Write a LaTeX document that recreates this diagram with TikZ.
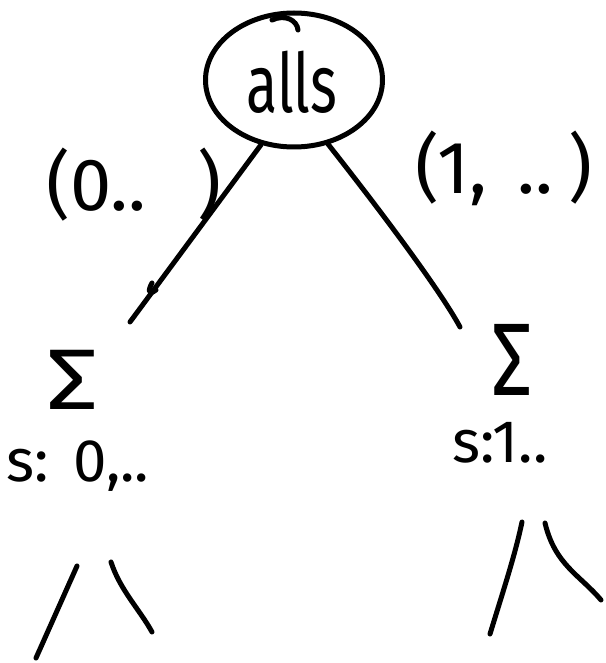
\documentclass[tikz,border=0pt]{standalone}
\usepackage{fontspec}
\setmainfont{Fira Sans}
\usetikzlibrary{shapes.geometric}
\begin{document}
\begin{tikzpicture}[x=1pt,y=-1pt,
  pen/.style={line width=5pt,line cap=round,line join=round},
  lab/.style={font=\fontsize{74}{78}\selectfont,inner sep=0pt},
  mid/.style={font=\fontsize{60}{64}\selectfont,inner sep=0pt},
  sig/.style={font=\fontsize{86}{90}\selectfont,inner sep=0pt}]
\useasboundingbox (0,0) rectangle (605,663);
\node[draw,pen,ellipse,minimum width=177pt,minimum height=134pt] (root) at (294,80) {};
\node[font=\fontsize{82}{86}\selectfont,inner sep=0pt,xscale=0.7] (name) at (292,82) {alls};
\draw[pen] (272,20) .. controls (285,14) and (297,20) .. (298,30);
\node[lab] (l0) at (134,185) {(0..\hspace{52pt})};
\node[lab] (l1) at (504,168) {(1,\hspace{30pt}..\hspace{16pt})};
\node[sig,xscale=1.2] (sl) at (72,380) {Σ};
\node[sig,yscale=1.2,xscale=0.95] (sr) at (512,360) {Σ};
\node[mid] (tl) at (78,466) {s:\hspace{24pt}0,..};
\node[mid] (tr) at (500,443) {s:1..};
\coordinate (le) at (130,322);
\coordinate (re) at (460,327);
\draw[pen] (root.243) -- (le);
\draw[pen] (152,283) .. controls (148,290) and (148,296) .. (156,290);
\draw[pen] (root.298) .. controls (380,210) and (440,290) .. (re);
\coordinate (a1) at (36,658); \coordinate (a2) at (77,566);
\coordinate (b1) at (111,562); \coordinate (b2) at (152,632);
\coordinate (c1) at (490,634); \coordinate (c2) at (522,522);
\coordinate (d1) at (545,523); \coordinate (d2) at (601,600);
\draw[pen] (a1) -- (a2);
\draw[pen] (b1) .. controls (120,590) and (140,610) .. (b2);
\draw[pen] (c1) .. controls (505,585) and (515,555) .. (c2);
\draw[pen] (d1) .. controls (555,565) and (580,575) .. (d2);
\end{tikzpicture}
\end{document}
